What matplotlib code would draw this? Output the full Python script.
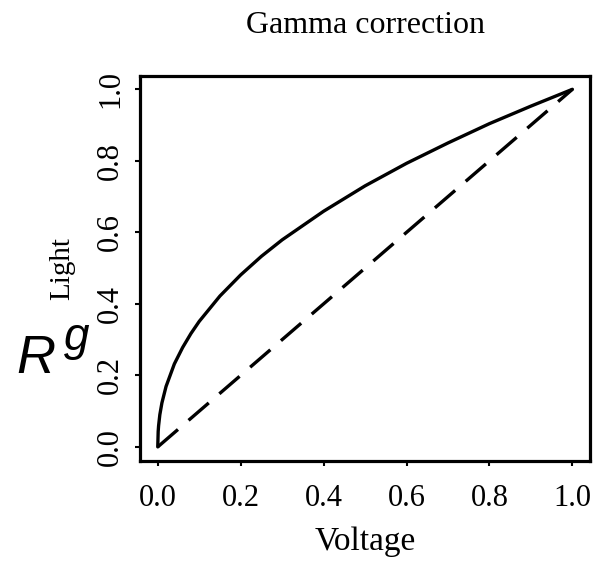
import matplotlib
matplotlib.use("Agg")
import matplotlib.pyplot as plt
import numpy as np

# values
voltage = [0.0, 0.001, 0.002, 0.005, 0.01, 0.02, 0.04, 0.06, 0.08, 0.1, 0.15,
           0.2, 0.25, 0.3, 0.4, 0.5, 0.6, 0.7, 0.8, 0.9, 1.0]
light = [0.0, 0.043, 0.059, 0.09, 0.123, 0.169, 0.232, 0.278, 0.317, 0.351, 0.422,
         0.481, 0.533, 0.579, 0.659, 0.730, 0.793, 0.850, 0.904, 0.953, 1.0]
linear_x = [0.0, 1.0]
linear_y = [0.0, 1.0]
ticks = [0.0, 0.2, 0.4, 0.6, 0.8, 1.0]
tick_labels = ["0.0", "0.2", "0.4", "0.6", "0.8", "1.0"]

plt.rcParams['font.family'] = ['Liberation Serif', 'DejaVu Serif']

fig = plt.figure(figsize=(5.98, 5.62), dpi=100)
ax = fig.add_axes([0.234, 0.180, 0.753, 0.684])

ax.plot(voltage, light, color='black', lw=2.4, solid_capstyle='round')
ax.plot(linear_x, linear_y, color='black', lw=2.4, dashes=(8, 4.2))

ax.set_xlim(-0.043, 1.043)
ax.set_ylim(-0.039, 1.036)
ax.set_xticks(ticks)
ax.set_xticklabels(tick_labels)
ax.set_yticks(ticks)
ax.set_yticklabels(tick_labels, rotation=90, va='center')
ax.tick_params(axis='both', direction='out', length=3.6, width=1.5,
               labelsize=22, colors='black')
ax.tick_params(axis='x', pad=13)
ax.tick_params(axis='y', pad=7)
for s in ax.spines.values():
    s.set_linewidth(2.3)

ax.set_title('Gamma correction', fontsize=23, y=1.1127, va='baseline', pad=0)
ax.set_xlabel('Voltage', fontsize=24, va='baseline')
ax.xaxis.set_label_coords(0.5, -0.232)
ax.set_ylabel('Light', fontsize=21)
ax.yaxis.set_label_coords(-0.143, 0.5)

# big R^g annotation at the left
fig.text(16 / 598, 1 - 373 / 562, 'R', fontsize=39, family='Liberation Sans',
         style='italic', va='baseline', ha='left')
fig.text(64 / 598, 1 - 350 / 562, 'g', fontsize=33, family='Liberation Sans',
         style='italic', va='baseline', ha='left')

fig.savefig('out.png', dpi=100)
